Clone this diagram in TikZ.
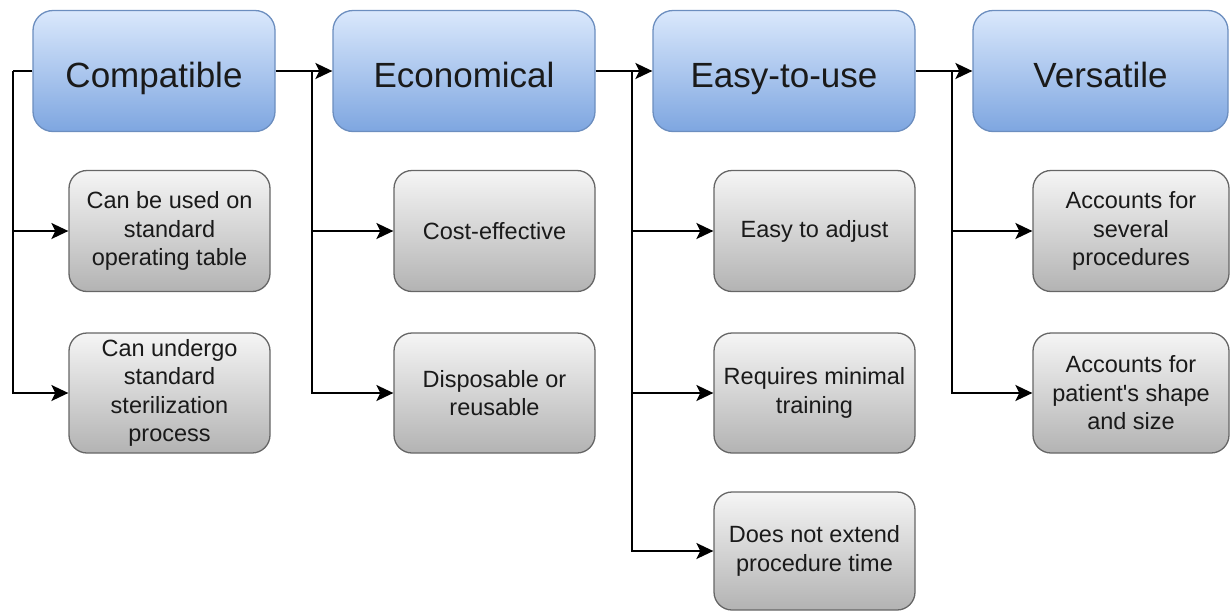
\documentclass[tikz,border=0pt]{standalone}
\usepackage{fontspec}
\setmainfont{Liberation Sans}
\usetikzlibrary{arrows.meta}
\definecolor{headtop}{HTML}{DAE8FC}
\definecolor{headbot}{HTML}{7EA6E0}
\definecolor{headline}{HTML}{6C8EBF}
\definecolor{subtop}{HTML}{F5F5F5}
\definecolor{subbot}{HTML}{B3B3B3}
\definecolor{subline}{HTML}{666666}
\definecolor{ink}{HTML}{1A1A1A}
\tikzset{
  headbox/.style={draw=headline, line width=1.3pt, rounded corners=20pt,
    top color=headtop, bottom color=headbot, minimum height=121pt,
    inner sep=0pt, text height=34pt, text depth=2pt, text=ink,
    font=\fontsize{35}{40}\selectfont},
  subbox/.style={draw=subline, line width=1.3pt, rounded corners=18pt,
    top color=subtop, bottom color=subbot, minimum width=201pt,
    inner sep=0pt, align=center, text=ink,
    font=\fontsize{23.5}{28.5}\selectfont},
  link/.style={draw=black, line width=2pt,
    -{Stealth[length=17pt, width=16pt, inset=4pt]}},
  plain/.style={draw=black, line width=2pt}
}
\begin{document}
\begin{tikzpicture}[x=1pt,y=-1pt]
\useasboundingbox (0,0) rectangle (1230,611);

% category headers
\node[headbox, minimum width=242pt] (comp) at (154,71) {Compatible};
\node[headbox, minimum width=262pt] (econ) at (464,71) {Economical};
\node[headbox, minimum width=262pt] (easy) at (784,71) {Easy-to-use};
\node[headbox, minimum width=255pt] (vers) at (1100.5,71) {Versatile};

% properties under each header
\node[subbox, minimum height=121pt] (c1) at (169.5,231) {Can be used on\\standard\\operating table};
\node[subbox, minimum height=120pt] (c2) at (169.5,393) {Can undergo\\standard\\sterilization\\process};

\node[subbox, minimum height=121pt] (e1) at (494.5,231) {Cost-effective};
\node[subbox, minimum height=120pt] (e2) at (494.5,393) {Disposable or\\reusable};

\node[subbox, minimum height=121pt] (u1) at (814.5,231) {Easy to adjust};
\node[subbox, minimum height=120pt] (u2) at (814.5,393) {Requires minimal\\training};
\node[subbox, minimum height=118pt] (u3) at (814.5,551) {Does not extend\\procedure time};

\node[subbox, minimum height=121pt, minimum width=196pt] (v1) at (1131,231) {Accounts for\\several\\procedures};
\node[subbox, minimum height=120pt, minimum width=196pt] (v2) at (1131,393) {Accounts for\\patient\textquotesingle s shape\\and size};

% header chain
\draw[link] (comp.east) -- (econ.west);
\draw[link] (econ.east) -- (easy.west);
\draw[link] (easy.east) -- (vers.west);

% branch points left of each header
\coordinate (cb) at ([xshift=-19pt]comp.west);
\coordinate (eb) at ([xshift=-20pt]econ.west);
\coordinate (ub) at ([xshift=-20pt]easy.west);
\coordinate (vb) at ([xshift=-20pt]vers.west);

\draw[plain] (comp.west) -- (cb);
\draw[link] (cb) |- (c1.west);
\draw[link] (cb) |- (c2.west);

\draw[link] (eb) |- (e1.west);
\draw[link] (eb) |- (e2.west);

\draw[link] (ub) |- (u1.west);
\draw[link] (ub) |- (u2.west);
\draw[link] (ub) |- (u3.west);

\draw[link] (vb) |- (v1.west);
\draw[link] (vb) |- (v2.west);
\end{tikzpicture}
\end{document}
